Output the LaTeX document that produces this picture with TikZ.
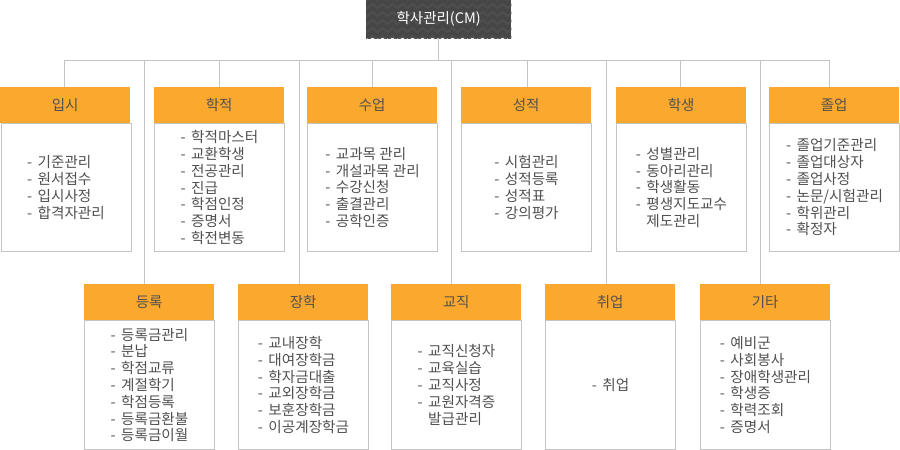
\documentclass[tikz,border=0pt]{standalone}
\usepackage{fontspec}
\newfontfamily\kr{Noto Sans CJK KR}
\usetikzlibrary{decorations.pathmorphing}
\definecolor{rootgray}{HTML}{464646}
\definecolor{zig}{HTML}{4F4F4F}
\definecolor{hdr}{HTML}{FBA82E}
\definecolor{ln}{HTML}{C4C4C4}
\definecolor{txt}{HTML}{505050}
\newcommand\dd{-\hspace{5.5pt}}
\begin{document}
\begin{tikzpicture}[x=1pt,y=-1pt,
  hdrbox/.style={fill=hdr, minimum width=130pt, minimum height=36pt, anchor=north west, inner sep=0pt, font=\kr\fontsize{14.5}{16}\selectfont, text=txt},
  bodybox/.style={draw=ln, line width=1pt, fill=white, minimum width=130pt, anchor=north west, inner sep=0pt},
  listtxt/.style={align=left, font=\kr\fontsize{14.6}{16.8}\selectfont, text=txt, inner sep=0pt},
  rootbox/.style={fill=rootgray, minimum width=145pt, minimum height=38pt, anchor=north west, inner sep=0pt},
  conn/.style={draw=ln, line width=1pt}]
\useasboundingbox[fill=white] (0,0) rectangle (900,450);

% root
\node[rootbox] (root) at (366,0) {};
\begin{scope}
  \clip (root.north west) rectangle (root.south east);
  \foreach \yy in {-2,6,...,42} {
    \draw[zig, line width=2pt, decorate, decoration={zigzag, segment length=10pt, amplitude=2pt}] (360,\yy) -- (520,\yy);
  }
\end{scope}
\node[text=white, font=\kr\fontsize{14.5}{16}\selectfont, inner sep=0pt] (roott) at (root.center) {학사관리(CM)};

% bus
\coordinate (bus) at (0,60);
\coordinate (busL) at (64,60);
\coordinate (busR) at (829,60);
\draw[conn] (root.south) -- (root.south |- bus);
\draw[conn] (busL) -- (busR);

% top row
\node[bodybox, minimum height=128pt] (b1) at (0.5,123) {};
\node[hdrbox] (h1) at (0,87) {입시};
\node[listtxt] (t1) at (b1.center) {\dd 기준관리\\\dd 원서접수\\\dd 입시사정\\\dd 합격자관리};

\node[bodybox, minimum height=128pt] (b2) at (154,123) {};
\node[hdrbox] (h2) at (154,87) {학적};
\node[listtxt] (t2) at (b2.center) {\dd 학적마스터\\\dd 교환학생\\\dd 전공관리\\\dd 진급\\\dd 학점인정\\\dd 증명서\\\dd 학전변동};

\node[bodybox, minimum height=128pt] (b3) at (307,123) {};
\node[hdrbox] (h3) at (307,87) {수업};
\node[listtxt] (t3) at (b3.center) {\dd 교과목 관리\\\dd 개설과목 관리\\\dd 수강신청\\\dd 출결관리\\\dd 공학인증};

\node[bodybox, minimum height=128pt] (b4) at (461,123) {};
\node[hdrbox] (h4) at (461,87) {성적};
\node[listtxt] (t4) at (b4.center) {\dd 시험관리\\\dd 성적등록\\\dd 성적표\\\dd 강의평가};

\node[bodybox, minimum height=128pt] (b5) at (616,123) {};
\node[hdrbox] (h5) at (616,87) {학생};
\node[listtxt] (t5) at (b5.center) {\dd 성별관리\\\dd 동아리관리\\\dd 학생활동\\\dd 평생지도교수\\\phantom{\dd}제도관리};

\node[bodybox, minimum height=128pt] (b6) at (769,123) {};
\node[hdrbox] (h6) at (769,87) {졸업};
\node[listtxt] (t6) at (b6.center) {\dd 졸업기준관리\\\dd 졸업대상자\\\dd 졸업사정\\\dd 논문/시험관리\\\dd 학위관리\\\dd 확정자};

% bottom row
\node[bodybox, minimum height=129pt] (b7) at (84,320) {};
\node[hdrbox] (h7) at (84,284) {등록};
\node[listtxt] (t7) at (b7.center) {\dd 등록금관리\\\dd 분납\\\dd 학점교류\\\dd 계절학기\\\dd 학점등록\\\dd 등록금환불\\\dd 등록금이월};

\node[bodybox, minimum height=129pt] (b8) at (238,320) {};
\node[hdrbox] (h8) at (238,284) {장학};
\node[listtxt] (t8) at (b8.center) {\dd 교내장학\\\dd 대여장학금\\\dd 학자금대출\\\dd 교외장학금\\\dd 보훈장학금\\\dd 이공계장학금};

\node[bodybox, minimum height=129pt] (b9) at (391,320) {};
\node[hdrbox] (h9) at (391,284) {교직};
\node[listtxt] (t9) at (b9.center) {\dd 교직신청자\\\dd 교육실습\\\dd 교직사정\\\dd 교원자격증\\\phantom{\dd}발급관리};

\node[bodybox, minimum height=129pt] (b10) at (545,320) {};
\node[hdrbox] (h10) at (545,284) {취업};
\node[listtxt] (t10) at (b10.center) {\dd 취업};

\node[bodybox, minimum height=129pt] (b11) at (700,320) {};
\node[hdrbox] (h11) at (700,284) {기타};
\node[listtxt] (t11) at (b11.center) {\dd 예비군\\\dd 사회봉사\\\dd 장애학생관리\\\dd 학생증\\\dd 학력조회\\\dd 증명서};

% connectors
\coordinate (c1) at (64,60);
\coordinate (c2) at (219,60);
\coordinate (c3) at (372,60);
\coordinate (c4) at (527,60);
\coordinate (c5) at (680,60);
\coordinate (c6) at (829,60);
\coordinate (c7) at (144,60);
\coordinate (c8) at (299,60);
\coordinate (c9) at (451,60);
\coordinate (c10) at (606,60);
\coordinate (c11) at (760,60);
\foreach \i in {1,...,11} {
  \draw[conn] (c\i) -- (c\i |- h\i.north);
}
\end{tikzpicture}
\end{document}
